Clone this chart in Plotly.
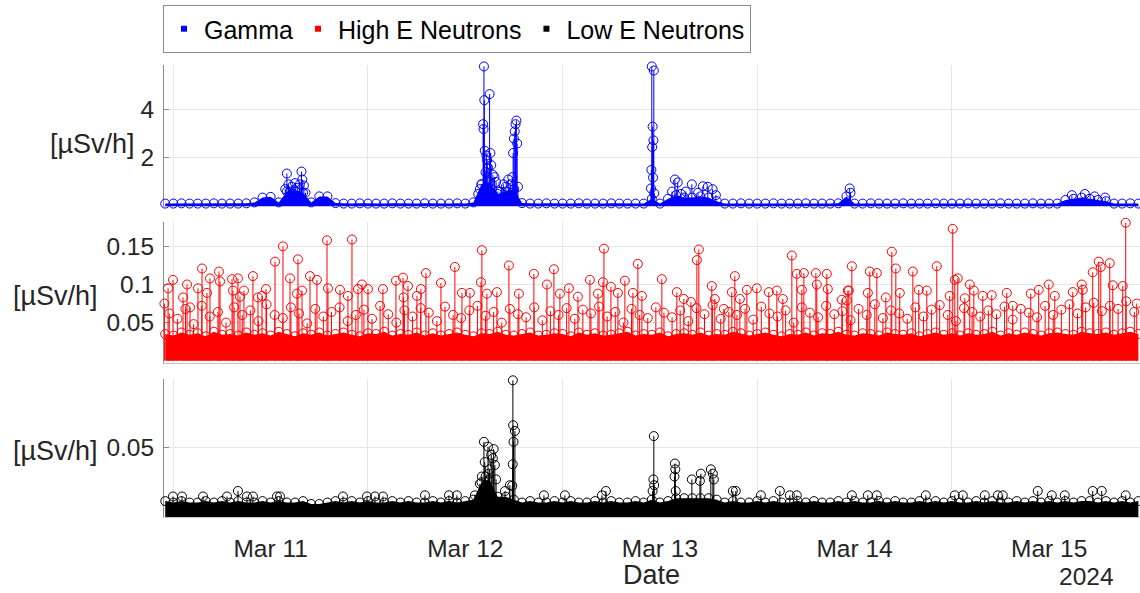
import pandas as pd
import plotly.graph_objects as go

# ---------------- data (hours after 2024-03-10 00:00) ----------------
T0 = pd.Timestamp("2024-03-10 00:00")
hour_grid = list(range(11, 132))                 # hourly samples of the dense band
half_grid = [h + 0.5 for h in range(11, 131)]    # half-hour offset samples

gamma_floor = [
    0.1, 0.1, 0.11, 0.1, 0.1, 0.1, 0.11, 0.1, 0.1, 0.1, 0.11,
    0.15, 0.35, 0.38, 0.15, 0.6, 0.65, 0.55, 0.15, 0.4, 0.4, 0.12,
    0.1, 0.1, 0.11, 0.1, 0.1, 0.1, 0.11, 0.1, 0.1, 0.1, 0.11,
    0.1, 0.1, 0.1, 0.11, 0.1, 0.15, 0.9, 1.0, 0.5, 0.6, 0.7,
    0.12, 0.1, 0.1, 0.11, 0.1, 0.1, 0.1, 0.11, 0.1, 0.1, 0.1,
    0.11, 0.1, 0.1, 0.1, 0.1, 0.3, 0.1, 0.3, 0.45, 0.35, 0.35,
    0.4, 0.35, 0.2, 0.1, 0.1, 0.11, 0.1, 0.1, 0.1, 0.11, 0.1,
    0.1, 0.1, 0.11, 0.1, 0.1, 0.1, 0.11, 0.4, 0.1, 0.1, 0.11,
    0.1, 0.1, 0.1, 0.11, 0.1, 0.1, 0.1, 0.11, 0.1, 0.1, 0.1,
    0.11, 0.1, 0.1, 0.1, 0.11, 0.1, 0.1, 0.1, 0.11, 0.1, 0.1,
    0.1, 0.25, 0.3, 0.35, 0.3, 0.25, 0.2, 0.1, 0.1, 0.11, 0.1,
]
gamma_spike_h = [
    25.8, 26.0, 26.2, 26.4, 26.6, 26.8, 27.0, 27.3, 27.6, 27.8, 27.9, 28.1, 28.3,
    49.6, 49.8, 50.0, 50.2, 50.25, 50.3, 50.35, 50.4, 50.5, 50.6, 50.7, 50.8, 51.0,
    51.1, 51.2, 51.4, 51.6, 51.8, 52.0, 52.3, 52.7, 53.0, 53.3, 53.6, 53.8, 53.9,
    54.0, 54.1, 54.2, 54.3, 54.4, 54.5,
    70.9, 70.95, 71.0, 71.05, 71.1, 71.15, 71.2, 71.25, 71.3,
    73.5, 73.85, 74.2, 74.6, 75.2, 75.94, 76.7, 77.3, 77.9, 78.5, 78.9,
    95.4, 95.5, 122.8, 124.4, 125.6, 126.9,
]
gamma_spike_v = [
    0.7, 1.35, 0.9, 0.6, 0.8, 0.5, 0.95, 0.75, 0.9, 1.43, 1.1, 0.85, 0.55,
    0.5, 0.7, 0.9, 3.4, 3.2, 5.8, 4.4, 2.3, 1.4, 2.1, 1.9, 1.6, 4.65,
    2.2, 1.7, 1.3, 1.2, 1.0, 0.6, 0.6, 0.9, 0.8, 1.1, 0.9, 1.2, 2.2,
    2.8, 3.1, 3.4, 3.55, 2.6, 0.8,
    0.73, 1.5, 5.8, 2.45, 3.3, 1.18, 2.73, 5.63, 0.53,
    0.6, 1.1, 0.98, 0.5, 0.6, 0.9, 0.55, 0.82, 0.8, 0.7, 0.45,
    0.73, 0.55, 0.45, 0.5, 0.4, 0.35,
]

high_floor = [
    0.035, 0.033, 0.037, 0.034, 0.036, 0.032, 0.038, 0.034, 0.035, 0.033, 0.037,
    0.034, 0.036, 0.033, 0.038, 0.035, 0.032, 0.036, 0.034, 0.037, 0.033, 0.035,
    0.037, 0.034, 0.032, 0.036, 0.035, 0.038, 0.033, 0.035, 0.034, 0.037, 0.033,
    0.036, 0.033, 0.035, 0.037, 0.034, 0.032, 0.036, 0.035, 0.038, 0.034, 0.033,
    0.035, 0.037, 0.033, 0.034, 0.036, 0.035, 0.032, 0.037, 0.034, 0.036, 0.033,
    0.034, 0.036, 0.038, 0.033, 0.035, 0.034, 0.037, 0.032, 0.035, 0.036, 0.034,
    0.037, 0.033, 0.035, 0.034, 0.038, 0.036, 0.033, 0.035, 0.037, 0.034, 0.032,
    0.035, 0.034, 0.037, 0.033, 0.036, 0.035, 0.038, 0.034, 0.033, 0.036, 0.035,
    0.033, 0.037, 0.035, 0.034, 0.036, 0.032, 0.035, 0.037, 0.034, 0.036, 0.033,
    0.036, 0.034, 0.035, 0.038, 0.033, 0.036, 0.034, 0.037, 0.035, 0.033, 0.036,
    0.037, 0.035, 0.034, 0.038, 0.036, 0.035, 0.037, 0.034, 0.036, 0.038, 0.035,
]
high_mid = [
    0.062, 0.055, 0.068, 0.048, 0.072, 0.058, 0.064, 0.050, 0.070, 0.060,
    0.066, 0.052, 0.074, 0.060, 0.056, 0.070, 0.062, 0.049, 0.068, 0.058,
    0.064, 0.070, 0.052, 0.060, 0.067, 0.055, 0.072, 0.061, 0.050, 0.066,
    0.058, 0.069, 0.063, 0.052, 0.071, 0.060, 0.056, 0.066, 0.072, 0.059,
    0.064, 0.050, 0.068, 0.061, 0.057, 0.070, 0.053, 0.065, 0.060, 0.069,
    0.055, 0.067, 0.062, 0.071, 0.058, 0.064, 0.050, 0.068, 0.060, 0.056,
    0.070, 0.063, 0.057, 0.066, 0.052, 0.069, 0.061, 0.073, 0.055, 0.064,
    0.060, 0.068, 0.054, 0.071, 0.062, 0.058, 0.066, 0.050, 0.070, 0.063,
    0.057, 0.072, 0.061, 0.065, 0.053, 0.068, 0.060, 0.074, 0.056, 0.066,
    0.062, 0.055, 0.070, 0.058, 0.067, 0.073, 0.060, 0.052, 0.069, 0.064,
    0.058, 0.066, 0.061, 0.071, 0.054, 0.068, 0.063, 0.057, 0.072, 0.060,
    0.067, 0.074, 0.062, 0.070, 0.076, 0.065, 0.072, 0.068, 0.078, 0.064,
]
high_spike_h = [
    10.9, 11.35, 11.96, 13.2, 13.69, 14.06, 15.04, 15.54, 16.15, 16.52, 17.63, 17.76,
    19.24, 19.36, 19.97, 20.22, 20.71, 21.82, 22.44, 22.93, 23.43, 24.54, 25.52, 26.39,
    27.25, 27.37, 27.87, 28.85, 29.71, 30.95, 31.07, 32.55, 33.53, 34.03, 34.77, 35.26,
    36.0, 37.85, 39.45, 40.32, 40.4, 40.93, 42.04, 42.53, 43.15, 45.0, 46.72, 47.59,
    48.57, 49.93, 50.05, 50.67, 51.9, 53.38, 54.61, 56.46, 58.07, 58.93, 59.67, 60.78,
    61.89, 63.37, 64.36, 64.97, 65.1, 65.96, 66.82, 67.68, 68.67, 69.28, 69.78, 72.24,
    74.09, 74.95, 75.82, 76.56, 76.8, 78.4, 78.77, 79.88, 80.87, 81.24, 81.86, 82.72,
    83.95, 85.43, 86.42, 87.16, 88.27, 88.88, 89.5, 89.75, 91.23, 91.35, 92.58, 92.7,
    94.43, 95.05, 95.17, 95.3, 95.67, 97.64, 97.88, 98.75, 99.86, 100.6, 101.09, 101.58,
    103.19, 103.92, 104.91, 106.14, 107.74, 108.11, 108.36, 108.73, 109.59, 110.21,
    110.71, 111.81, 112.92, 114.77, 115.51, 117.73, 118.71, 119.95, 120.69, 122.91,
    124.02, 124.14, 125.37, 126.11, 126.36, 127.47, 127.84, 129.07, 129.44, 130.8,
]
high_spike_v = [
    0.075, 0.095, 0.106, 0.083, 0.100, 0.070, 0.095, 0.121, 0.089, 0.108, 0.117, 0.104,
    0.107, 0.092, 0.108, 0.084, 0.092, 0.111, 0.083, 0.085, 0.094, 0.130, 0.150, 0.108,
    0.088, 0.133, 0.092, 0.111, 0.106, 0.158, 0.095, 0.093, 0.085, 0.159, 0.094, 0.100,
    0.094, 0.094, 0.105, 0.109, 0.083, 0.098, 0.085, 0.094, 0.115, 0.102, 0.123, 0.089,
    0.089, 0.103, 0.145, 0.088, 0.090, 0.125, 0.088, 0.114, 0.100, 0.120, 0.088, 0.095,
    0.084, 0.106, 0.088, 0.103, 0.147, 0.097, 0.089, 0.105, 0.089, 0.127, 0.085, 0.107,
    0.090, 0.081, 0.077, 0.132, 0.146, 0.098, 0.081, 0.068, 0.090, 0.111, 0.081, 0.093,
    0.095, 0.090, 0.092, 0.081, 0.138, 0.114, 0.093, 0.115, 0.115, 0.100, 0.114, 0.094,
    0.080, 0.079, 0.092, 0.092, 0.124, 0.089, 0.117, 0.115, 0.083, 0.143, 0.121, 0.089,
    0.117, 0.093, 0.092, 0.124, 0.085, 0.173, 0.106, 0.108, 0.082, 0.100,
    0.092, 0.085, 0.086, 0.089, 0.072, 0.088, 0.093, 0.100, 0.085, 0.090,
    0.100, 0.093, 0.116, 0.130, 0.123, 0.128, 0.099, 0.098, 0.181, 0.075,
]

low_floor = [
    0.013, 0.012, 0.013, 0.012, 0.012, 0.013, 0.012, 0.013, 0.012, 0.013, 0.012,
    0.012, 0.013, 0.012, 0.013, 0.012, 0.012, 0.013, 0.011, 0.011, 0.012, 0.013,
    0.012, 0.013, 0.012, 0.013, 0.012, 0.012, 0.013, 0.012, 0.013, 0.012, 0.012,
    0.013, 0.012, 0.013, 0.012, 0.013, 0.014, 0.026, 0.028, 0.016, 0.016, 0.014,
    0.012, 0.013, 0.012, 0.012, 0.013, 0.012, 0.013, 0.012, 0.012, 0.013, 0.012,
    0.013, 0.012, 0.012, 0.013, 0.012, 0.014, 0.012, 0.013, 0.015, 0.015, 0.015,
    0.015, 0.015, 0.014, 0.012, 0.013, 0.012, 0.012, 0.013, 0.012, 0.013, 0.012,
    0.012, 0.013, 0.012, 0.013, 0.012, 0.012, 0.013, 0.012, 0.013, 0.012, 0.012,
    0.013, 0.012, 0.013, 0.012, 0.012, 0.013, 0.012, 0.013, 0.012, 0.013, 0.012,
    0.012, 0.013, 0.012, 0.013, 0.012, 0.012, 0.013, 0.012, 0.013, 0.012, 0.013,
    0.012, 0.013, 0.012, 0.013, 0.013, 0.012, 0.013, 0.012, 0.013, 0.012, 0.013,
]
low_spike_h = [
    11.96, 13.07, 15.66, 18.62, 19.97, 21.08, 21.82, 24.78, 25.15, 32.92, 35.88, 36.86, 37.85,
    43.03, 45.99, 46.97, 49.19,
    49.8, 50.05, 50.3, 50.4, 50.5, 50.8, 50.9, 51.0, 51.2, 51.4, 51.5, 51.65, 51.8,
    52.9, 53.5, 53.8, 53.85, 53.87, 53.9, 53.95, 54.12,
    57.7, 60.29, 64.85, 65.34,
    71.1, 71.2, 71.25, 71.3, 73.8, 73.85, 73.9, 73.95,
    75.94, 76.93, 77.05, 78.28, 78.53, 78.65,
    80.99, 81.36, 84.45, 86.79, 88.02, 88.88, 95.67, 97.64, 98.75, 104.79, 108.36, 109.35,
    112.06, 113.66, 114.28, 118.59, 120.32, 121.92, 125.37, 126.48, 129.44,
]
low_spike_v = [
    0.0162, 0.0162, 0.0162, 0.0162, 0.020, 0.0162, 0.0162, 0.0162, 0.0162, 0.0162, 0.0162, 0.0162, 0.0162,
    0.017, 0.017, 0.017, 0.017,
    0.025, 0.030, 0.054, 0.040, 0.030, 0.0507, 0.032, 0.035, 0.045, 0.0426, 0.049, 0.038, 0.028,
    0.020, 0.024, 0.0236, 0.0385, 0.0966, 0.0655, 0.054, 0.0615,
    0.017, 0.017, 0.017, 0.020,
    0.020, 0.028, 0.058, 0.024, 0.030, 0.039, 0.035, 0.020,
    0.028, 0.027, 0.032, 0.035, 0.032, 0.028,
    0.020, 0.020, 0.017, 0.020, 0.017, 0.017, 0.017, 0.017, 0.017, 0.017, 0.017, 0.017,
    0.017, 0.017, 0.017, 0.020, 0.017, 0.017, 0.020, 0.020, 0.017,
]

tick_dates = ["2024-03-11", "2024-03-12", "2024-03-13", "2024-03-14", "2024-03-15"]
tick_labels = ["Mar 11", "Mar 12", "Mar 13", "Mar 14", "Mar 15"]
series_names = ["Gamma", "High E Neutrons", "Low E Neutrons"]
series_colors = ["#0000FF", "#FF0000", "#000000"]

# ---------------- helpers ----------------
def to_time(hours):
    return [T0 + pd.Timedelta(hours=h) for h in hours]


def stems(ts, vs):
    xs, ys = [], []
    for t, v in zip(ts, vs):
        xs += [t, t, None]
        ys += [0, v, None]
    return xs, ys


FONT = "Liberation Sans, Arial, Helvetica, sans-serif"
W, H = 1140, 593
MS = 9

fig = go.Figure()


def add_panel(axis_suffix, color, floor, stem_sets):
    xa, ya = "x" + axis_suffix, "y" + axis_suffix
    tf = to_time(hour_grid)
    # dense band
    fig.add_trace(go.Scatter(x=tf, y=floor, mode="lines", line=dict(width=0, color=color),
                             fill="tozeroy", fillcolor=color, hoverinfo="skip",
                             showlegend=False, xaxis=xa, yaxis=ya))
    for ts, vs in stem_sets:
        sx, sy = stems(ts, vs)
        fig.add_trace(go.Scatter(x=sx, y=sy, mode="lines", line=dict(width=1, color=color),
                                 hoverinfo="skip", showlegend=False, xaxis=xa, yaxis=ya))
    all_t = list(tf)
    all_v = list(floor)
    for ts, vs in stem_sets:
        all_t += list(ts)
        all_v += list(vs)
    fig.add_trace(go.Scatter(x=all_t, y=all_v, mode="markers", cliponaxis=False,
                             marker=dict(symbol="circle-open", size=MS, color=color,
                                         line=dict(width=1, color=color)),
                             showlegend=False, xaxis=xa, yaxis=ya))


add_panel("", series_colors[0], gamma_floor,
          [(to_time(gamma_spike_h), gamma_spike_v)])
add_panel("2", series_colors[1], high_floor,
          [(to_time(half_grid), high_mid), (to_time(high_spike_h), high_spike_v)])
add_panel("3", series_colors[2], low_floor,
          [(to_time(low_spike_h), low_spike_v)])

# legend entries
for name, c in zip(series_names, series_colors):
    fig.add_trace(go.Scatter(x=[None], y=[None], mode="markers", name=name,
                             marker=dict(symbol="square", size=6, color=c), xaxis="x3", yaxis="y3"))

x_range = [T0 + pd.Timedelta(hours=10.85), T0 + pd.Timedelta(hours=131.2)]
x_dom = [164 / W, 1.0]
grid_c = "#e6e6e6"
tick_font = dict(family=FONT, size=24.5, color="#262626")


def xaxis_cfg(anchor, labels):
    d = dict(type="date", range=x_range, domain=x_dom, anchor=anchor,
             tickmode="array", tickvals=tick_dates, ticktext=tick_labels,
             showticklabels=labels, ticks="", showgrid=False, zeroline=False,
             showline=True, linecolor="#c8c8c8", layer="below traces",
             minor=dict(tick0="2024-03-10 12:00", dtick=86400000, showgrid=True,
                        gridcolor=grid_c, gridwidth=1, ticks=""),
             tickfont=tick_font, ticklabelstandoff=10)
    return d


def yaxis_cfg(anchor, dom, rng, vals, texts):
    return dict(domain=dom, range=rng, anchor=anchor, tickmode="array", tickvals=vals,
                ticktext=texts, showgrid=True, gridcolor=grid_c, zeroline=False,
                showline=True, linecolor="#8c8c8c", ticks="inside", ticklen=5,
                tickcolor="#8c8c8c", tickfont=tick_font, layer="below traces",
                ticklabelstandoff=4)


fig.update_layout(
    width=W, height=H, margin=dict(l=0, r=0, t=0, b=0),
    paper_bgcolor="white", plot_bgcolor="white",
    font=dict(family=FONT, color="#262626"),
    xaxis=xaxis_cfg("y", False),
    xaxis2=xaxis_cfg("y2", False),
    xaxis3=xaxis_cfg("y3", True),
    yaxis=yaxis_cfg("x", [1 - 206 / H, 1 - 65 / H], [0, 5.86], [2, 4], ["2", "4"]),
    yaxis2=yaxis_cfg("x2", [1 - 363 / H, 1 - 222 / H], [-0.003, 0.182],
                     [0.05, 0.1, 0.15], ["0.05", "0.1", "0.15"]),
    yaxis3=yaxis_cfg("x3", [1 - 517 / H, 1 - 379 / H], [0.002, 0.0975], [0.05], ["0.05"]),
    showlegend=True,
    legend=dict(orientation="h", x=163 / W, y=1 - 5 / H, xanchor="left", yanchor="top",
                bordercolor="#8c8c8c", borderwidth=1, bgcolor="white",
                font=dict(family=FONT, size=25, color="#000000"), itemwidth=30,
                traceorder="normal"),
)

label_font = dict(family=FONT, size=27, color="#262626")
ann = [
    dict(text="[µSv/h]", x=137 / W, y=1 - 144 / H, xanchor="right", yanchor="middle"),
    dict(text="[µSv/h]", x=100 / W, y=1 - 296 / H, xanchor="right", yanchor="middle"),
    dict(text="[µSv/h]", x=100 / W, y=1 - 451 / H, xanchor="right", yanchor="middle"),
    dict(text="Date", x=651 / W, y=1 - 575 / H, xanchor="center", yanchor="middle"),
]
for a in ann:
    fig.add_annotation(xref="paper", yref="paper", showarrow=False, font=label_font, **a)
fig.add_annotation(xref="paper", yref="paper", showarrow=False, text="2024",
                   x=1086 / W, y=1 - 576 / H, xanchor="center", yanchor="middle",
                   font=tick_font)

fig.write_html("out.html")
